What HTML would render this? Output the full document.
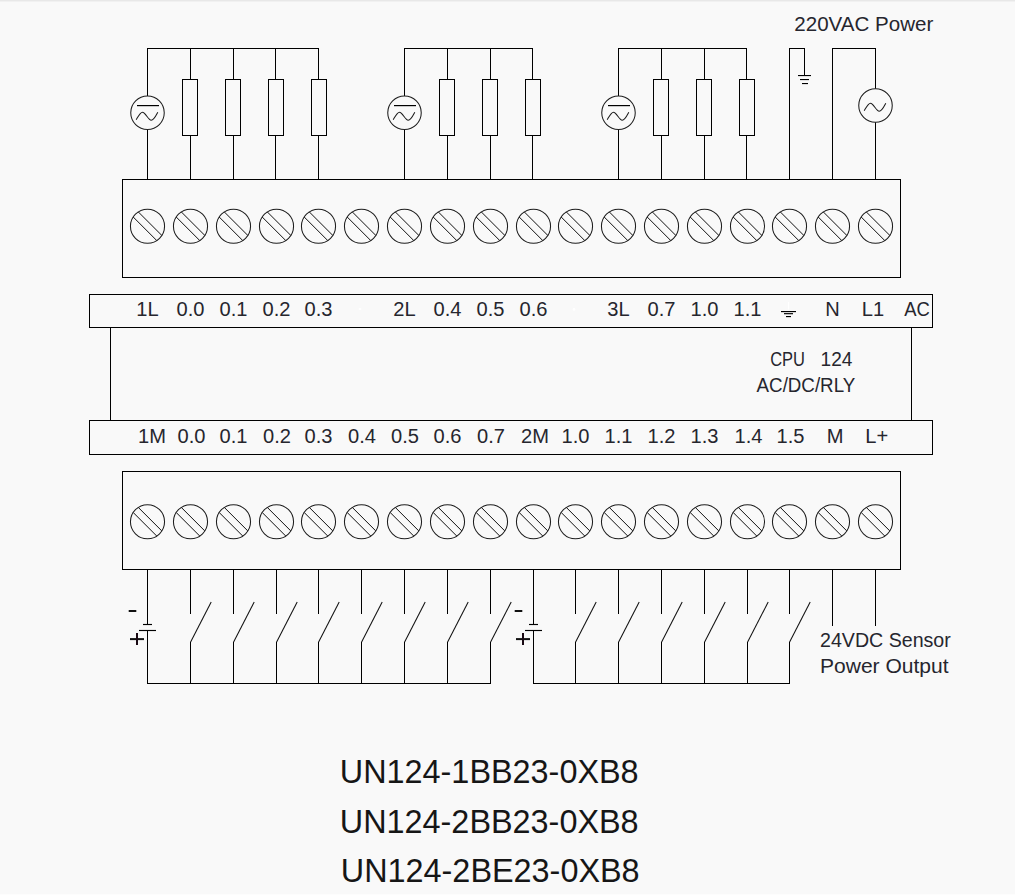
<!DOCTYPE html>
<html><head><meta charset="utf-8"><style>
html,body{margin:0;padding:0;background:#f9f9f9;width:1015px;height:895px;overflow:hidden}
svg{position:absolute;left:0;top:0;display:block}
.t0{position:absolute;left:0;top:0;width:1015px;height:1px;background:#e8e8e8}
.t1{position:absolute;left:0;top:1px;width:1015px;height:1px;background:#f1f1f1}
.b0{position:absolute;left:0;top:894px;width:1015px;height:1px;background:#fdfdfd}
</style></head><body>
<div class="t0"></div><div class="t1"></div><div class="b0"></div>
<svg width="1015" height="895" viewBox="0 0 1015 895">
<g>
<line x1="147.0" y1="48.5" x2="319.0" y2="48.5" stroke="#000" stroke-width="1"/>
<line x1="147.5" y1="48.0" x2="147.5" y2="179.5" stroke="#000" stroke-width="1"/>
<line x1="190.5" y1="48.0" x2="190.5" y2="179.5" stroke="#000" stroke-width="1"/>
<line x1="233.5" y1="48.0" x2="233.5" y2="179.5" stroke="#000" stroke-width="1"/>
<line x1="275.5" y1="48.0" x2="275.5" y2="179.5" stroke="#000" stroke-width="1"/>
<line x1="318.5" y1="48.0" x2="318.5" y2="179.5" stroke="#000" stroke-width="1"/>
<circle cx="147.5" cy="112.8" r="16.75" fill="#f9f9f9" stroke="#1e1e1e" stroke-width="1.05"/>
<rect x="137.0" y="105" width="22" height="1.2" fill="#000"/>
<path d="M136.20,119.70 C138.20,116.40 140.20,112.20 142.50,112.20 C145.30,112.20 148.40,120.20 151.20,120.20 C153.80,120.20 155.90,115.80 157.80,112.20" fill="none" stroke="#1a1a1a" stroke-width="1.05"/>
<rect x="182.5" y="79.5" width="15" height="56" fill="#f9f9f9" stroke="#000" stroke-width="1"/>
<rect x="225.5" y="79.5" width="15" height="56" fill="#f9f9f9" stroke="#000" stroke-width="1"/>
<rect x="268.5" y="79.5" width="15" height="56" fill="#f9f9f9" stroke="#000" stroke-width="1"/>
<rect x="311.5" y="79.5" width="15" height="56" fill="#f9f9f9" stroke="#000" stroke-width="1"/>
<line x1="404.0" y1="48.5" x2="533.0" y2="48.5" stroke="#000" stroke-width="1"/>
<line x1="404.5" y1="48.0" x2="404.5" y2="179.5" stroke="#000" stroke-width="1"/>
<line x1="447.5" y1="48.0" x2="447.5" y2="179.5" stroke="#000" stroke-width="1"/>
<line x1="490.5" y1="48.0" x2="490.5" y2="179.5" stroke="#000" stroke-width="1"/>
<line x1="532.5" y1="48.0" x2="532.5" y2="179.5" stroke="#000" stroke-width="1"/>
<circle cx="404.5" cy="112.8" r="16.75" fill="#f9f9f9" stroke="#1e1e1e" stroke-width="1.05"/>
<rect x="394.0" y="105" width="22" height="1.2" fill="#000"/>
<path d="M393.20,119.70 C395.20,116.40 397.20,112.20 399.50,112.20 C402.30,112.20 405.40,120.20 408.20,120.20 C410.80,120.20 412.90,115.80 414.80,112.20" fill="none" stroke="#1a1a1a" stroke-width="1.05"/>
<rect x="439.5" y="79.5" width="15" height="56" fill="#f9f9f9" stroke="#000" stroke-width="1"/>
<rect x="482.5" y="79.5" width="15" height="56" fill="#f9f9f9" stroke="#000" stroke-width="1"/>
<rect x="525.5" y="79.5" width="15" height="56" fill="#f9f9f9" stroke="#000" stroke-width="1"/>
<line x1="618.0" y1="48.5" x2="747.0" y2="48.5" stroke="#000" stroke-width="1"/>
<line x1="618.5" y1="48.0" x2="618.5" y2="179.5" stroke="#000" stroke-width="1"/>
<line x1="661.5" y1="48.0" x2="661.5" y2="179.5" stroke="#000" stroke-width="1"/>
<line x1="704.5" y1="48.0" x2="704.5" y2="179.5" stroke="#000" stroke-width="1"/>
<line x1="746.5" y1="48.0" x2="746.5" y2="179.5" stroke="#000" stroke-width="1"/>
<circle cx="618.5" cy="112.8" r="16.75" fill="#f9f9f9" stroke="#1e1e1e" stroke-width="1.05"/>
<rect x="608.0" y="105" width="22" height="1.2" fill="#000"/>
<path d="M607.20,119.70 C609.20,116.40 611.20,112.20 613.50,112.20 C616.30,112.20 619.40,120.20 622.20,120.20 C624.80,120.20 626.90,115.80 628.80,112.20" fill="none" stroke="#1a1a1a" stroke-width="1.05"/>
<rect x="653.5" y="79.5" width="15" height="56" fill="#f9f9f9" stroke="#000" stroke-width="1"/>
<rect x="696.5" y="79.5" width="15" height="56" fill="#f9f9f9" stroke="#000" stroke-width="1"/>
<rect x="739.5" y="79.5" width="15" height="56" fill="#f9f9f9" stroke="#000" stroke-width="1"/>
<line x1="789.5" y1="48.0" x2="789.5" y2="179.5" stroke="#000" stroke-width="1"/>
<line x1="789.0" y1="48.5" x2="805" y2="48.5" stroke="#000" stroke-width="1"/>
<line x1="804.5" y1="48.0" x2="804.5" y2="75" stroke="#000" stroke-width="1"/>
<rect x="798" y="75" width="13" height="1.1" fill="#000"/>
<rect x="800" y="79" width="9" height="1.1" fill="#000"/>
<rect x="802" y="83" width="6" height="1.1" fill="#000"/>
<line x1="832.5" y1="48.0" x2="832.5" y2="179.5" stroke="#000" stroke-width="1"/>
<line x1="832.0" y1="48.5" x2="876.0" y2="48.5" stroke="#000" stroke-width="1"/>
<line x1="875.5" y1="48.0" x2="875.5" y2="179.5" stroke="#000" stroke-width="1"/>
<circle cx="875.5" cy="105.5" r="16.75" fill="#f9f9f9" stroke="#1e1e1e" stroke-width="1.05"/>
<path d="M864.20,110.70 C866.20,107.40 868.20,103.20 870.50,103.20 C873.30,103.20 876.40,111.20 879.20,111.20 C881.80,111.20 883.90,106.80 885.80,103.20" fill="none" stroke="#1a1a1a" stroke-width="1.05"/>
<rect x="122.5" y="179.5" width="778" height="98.0" fill="none" stroke="#000" stroke-width="1"/>
<circle cx="147.5" cy="226.2" r="17.05" fill="none" stroke="#1e1e1e" stroke-width="1.05"/>
<line x1="133.21" y1="217.00" x2="156.70" y2="240.49" stroke="#111" stroke-width="1.0"/>
<line x1="138.30" y1="211.91" x2="161.79" y2="235.40" stroke="#111" stroke-width="1.0"/>
<circle cx="190.5" cy="226.2" r="17.05" fill="none" stroke="#1e1e1e" stroke-width="1.05"/>
<line x1="176.21" y1="217.00" x2="199.70" y2="240.49" stroke="#111" stroke-width="1.0"/>
<line x1="181.30" y1="211.91" x2="204.79" y2="235.40" stroke="#111" stroke-width="1.0"/>
<circle cx="233.5" cy="226.2" r="17.05" fill="none" stroke="#1e1e1e" stroke-width="1.05"/>
<line x1="219.21" y1="217.00" x2="242.70" y2="240.49" stroke="#111" stroke-width="1.0"/>
<line x1="224.30" y1="211.91" x2="247.79" y2="235.40" stroke="#111" stroke-width="1.0"/>
<circle cx="276.5" cy="226.2" r="17.05" fill="none" stroke="#1e1e1e" stroke-width="1.05"/>
<line x1="262.21" y1="217.00" x2="285.70" y2="240.49" stroke="#111" stroke-width="1.0"/>
<line x1="267.30" y1="211.91" x2="290.79" y2="235.40" stroke="#111" stroke-width="1.0"/>
<circle cx="318.5" cy="226.2" r="17.05" fill="none" stroke="#1e1e1e" stroke-width="1.05"/>
<line x1="304.21" y1="217.00" x2="327.70" y2="240.49" stroke="#111" stroke-width="1.0"/>
<line x1="309.30" y1="211.91" x2="332.79" y2="235.40" stroke="#111" stroke-width="1.0"/>
<circle cx="361.5" cy="226.2" r="17.05" fill="none" stroke="#1e1e1e" stroke-width="1.05"/>
<line x1="347.21" y1="217.00" x2="370.70" y2="240.49" stroke="#111" stroke-width="1.0"/>
<line x1="352.30" y1="211.91" x2="375.79" y2="235.40" stroke="#111" stroke-width="1.0"/>
<circle cx="404.5" cy="226.2" r="17.05" fill="none" stroke="#1e1e1e" stroke-width="1.05"/>
<line x1="390.21" y1="217.00" x2="413.70" y2="240.49" stroke="#111" stroke-width="1.0"/>
<line x1="395.30" y1="211.91" x2="418.79" y2="235.40" stroke="#111" stroke-width="1.0"/>
<circle cx="447.5" cy="226.2" r="17.05" fill="none" stroke="#1e1e1e" stroke-width="1.05"/>
<line x1="433.21" y1="217.00" x2="456.70" y2="240.49" stroke="#111" stroke-width="1.0"/>
<line x1="438.30" y1="211.91" x2="461.79" y2="235.40" stroke="#111" stroke-width="1.0"/>
<circle cx="490.5" cy="226.2" r="17.05" fill="none" stroke="#1e1e1e" stroke-width="1.05"/>
<line x1="476.21" y1="217.00" x2="499.70" y2="240.49" stroke="#111" stroke-width="1.0"/>
<line x1="481.30" y1="211.91" x2="504.79" y2="235.40" stroke="#111" stroke-width="1.0"/>
<circle cx="533.5" cy="226.2" r="17.05" fill="none" stroke="#1e1e1e" stroke-width="1.05"/>
<line x1="519.21" y1="217.00" x2="542.70" y2="240.49" stroke="#111" stroke-width="1.0"/>
<line x1="524.30" y1="211.91" x2="547.79" y2="235.40" stroke="#111" stroke-width="1.0"/>
<circle cx="575.5" cy="226.2" r="17.05" fill="none" stroke="#1e1e1e" stroke-width="1.05"/>
<line x1="561.21" y1="217.00" x2="584.70" y2="240.49" stroke="#111" stroke-width="1.0"/>
<line x1="566.30" y1="211.91" x2="589.79" y2="235.40" stroke="#111" stroke-width="1.0"/>
<circle cx="618.5" cy="226.2" r="17.05" fill="none" stroke="#1e1e1e" stroke-width="1.05"/>
<line x1="604.21" y1="217.00" x2="627.70" y2="240.49" stroke="#111" stroke-width="1.0"/>
<line x1="609.30" y1="211.91" x2="632.79" y2="235.40" stroke="#111" stroke-width="1.0"/>
<circle cx="661.5" cy="226.2" r="17.05" fill="none" stroke="#1e1e1e" stroke-width="1.05"/>
<line x1="647.21" y1="217.00" x2="670.70" y2="240.49" stroke="#111" stroke-width="1.0"/>
<line x1="652.30" y1="211.91" x2="675.79" y2="235.40" stroke="#111" stroke-width="1.0"/>
<circle cx="704.5" cy="226.2" r="17.05" fill="none" stroke="#1e1e1e" stroke-width="1.05"/>
<line x1="690.21" y1="217.00" x2="713.70" y2="240.49" stroke="#111" stroke-width="1.0"/>
<line x1="695.30" y1="211.91" x2="718.79" y2="235.40" stroke="#111" stroke-width="1.0"/>
<circle cx="747.5" cy="226.2" r="17.05" fill="none" stroke="#1e1e1e" stroke-width="1.05"/>
<line x1="733.21" y1="217.00" x2="756.70" y2="240.49" stroke="#111" stroke-width="1.0"/>
<line x1="738.30" y1="211.91" x2="761.79" y2="235.40" stroke="#111" stroke-width="1.0"/>
<circle cx="789.5" cy="226.2" r="17.05" fill="none" stroke="#1e1e1e" stroke-width="1.05"/>
<line x1="775.21" y1="217.00" x2="798.70" y2="240.49" stroke="#111" stroke-width="1.0"/>
<line x1="780.30" y1="211.91" x2="803.79" y2="235.40" stroke="#111" stroke-width="1.0"/>
<circle cx="832.5" cy="226.2" r="17.05" fill="none" stroke="#1e1e1e" stroke-width="1.05"/>
<line x1="818.21" y1="217.00" x2="841.70" y2="240.49" stroke="#111" stroke-width="1.0"/>
<line x1="823.30" y1="211.91" x2="846.79" y2="235.40" stroke="#111" stroke-width="1.0"/>
<circle cx="875.5" cy="226.2" r="17.05" fill="none" stroke="#1e1e1e" stroke-width="1.05"/>
<line x1="861.21" y1="217.00" x2="884.70" y2="240.49" stroke="#111" stroke-width="1.0"/>
<line x1="866.30" y1="211.91" x2="889.79" y2="235.40" stroke="#111" stroke-width="1.0"/>
<rect x="122.5" y="471.5" width="778" height="98.0" fill="none" stroke="#000" stroke-width="1"/>
<circle cx="147.5" cy="521.7" r="17.05" fill="none" stroke="#1e1e1e" stroke-width="1.05"/>
<line x1="133.21" y1="512.50" x2="156.70" y2="535.99" stroke="#111" stroke-width="1.0"/>
<line x1="138.30" y1="507.41" x2="161.79" y2="530.90" stroke="#111" stroke-width="1.0"/>
<circle cx="190.5" cy="521.7" r="17.05" fill="none" stroke="#1e1e1e" stroke-width="1.05"/>
<line x1="176.21" y1="512.50" x2="199.70" y2="535.99" stroke="#111" stroke-width="1.0"/>
<line x1="181.30" y1="507.41" x2="204.79" y2="530.90" stroke="#111" stroke-width="1.0"/>
<circle cx="233.5" cy="521.7" r="17.05" fill="none" stroke="#1e1e1e" stroke-width="1.05"/>
<line x1="219.21" y1="512.50" x2="242.70" y2="535.99" stroke="#111" stroke-width="1.0"/>
<line x1="224.30" y1="507.41" x2="247.79" y2="530.90" stroke="#111" stroke-width="1.0"/>
<circle cx="276.5" cy="521.7" r="17.05" fill="none" stroke="#1e1e1e" stroke-width="1.05"/>
<line x1="262.21" y1="512.50" x2="285.70" y2="535.99" stroke="#111" stroke-width="1.0"/>
<line x1="267.30" y1="507.41" x2="290.79" y2="530.90" stroke="#111" stroke-width="1.0"/>
<circle cx="318.5" cy="521.7" r="17.05" fill="none" stroke="#1e1e1e" stroke-width="1.05"/>
<line x1="304.21" y1="512.50" x2="327.70" y2="535.99" stroke="#111" stroke-width="1.0"/>
<line x1="309.30" y1="507.41" x2="332.79" y2="530.90" stroke="#111" stroke-width="1.0"/>
<circle cx="361.5" cy="521.7" r="17.05" fill="none" stroke="#1e1e1e" stroke-width="1.05"/>
<line x1="347.21" y1="512.50" x2="370.70" y2="535.99" stroke="#111" stroke-width="1.0"/>
<line x1="352.30" y1="507.41" x2="375.79" y2="530.90" stroke="#111" stroke-width="1.0"/>
<circle cx="404.5" cy="521.7" r="17.05" fill="none" stroke="#1e1e1e" stroke-width="1.05"/>
<line x1="390.21" y1="512.50" x2="413.70" y2="535.99" stroke="#111" stroke-width="1.0"/>
<line x1="395.30" y1="507.41" x2="418.79" y2="530.90" stroke="#111" stroke-width="1.0"/>
<circle cx="447.5" cy="521.7" r="17.05" fill="none" stroke="#1e1e1e" stroke-width="1.05"/>
<line x1="433.21" y1="512.50" x2="456.70" y2="535.99" stroke="#111" stroke-width="1.0"/>
<line x1="438.30" y1="507.41" x2="461.79" y2="530.90" stroke="#111" stroke-width="1.0"/>
<circle cx="490.5" cy="521.7" r="17.05" fill="none" stroke="#1e1e1e" stroke-width="1.05"/>
<line x1="476.21" y1="512.50" x2="499.70" y2="535.99" stroke="#111" stroke-width="1.0"/>
<line x1="481.30" y1="507.41" x2="504.79" y2="530.90" stroke="#111" stroke-width="1.0"/>
<circle cx="533.5" cy="521.7" r="17.05" fill="none" stroke="#1e1e1e" stroke-width="1.05"/>
<line x1="519.21" y1="512.50" x2="542.70" y2="535.99" stroke="#111" stroke-width="1.0"/>
<line x1="524.30" y1="507.41" x2="547.79" y2="530.90" stroke="#111" stroke-width="1.0"/>
<circle cx="575.5" cy="521.7" r="17.05" fill="none" stroke="#1e1e1e" stroke-width="1.05"/>
<line x1="561.21" y1="512.50" x2="584.70" y2="535.99" stroke="#111" stroke-width="1.0"/>
<line x1="566.30" y1="507.41" x2="589.79" y2="530.90" stroke="#111" stroke-width="1.0"/>
<circle cx="618.5" cy="521.7" r="17.05" fill="none" stroke="#1e1e1e" stroke-width="1.05"/>
<line x1="604.21" y1="512.50" x2="627.70" y2="535.99" stroke="#111" stroke-width="1.0"/>
<line x1="609.30" y1="507.41" x2="632.79" y2="530.90" stroke="#111" stroke-width="1.0"/>
<circle cx="661.5" cy="521.7" r="17.05" fill="none" stroke="#1e1e1e" stroke-width="1.05"/>
<line x1="647.21" y1="512.50" x2="670.70" y2="535.99" stroke="#111" stroke-width="1.0"/>
<line x1="652.30" y1="507.41" x2="675.79" y2="530.90" stroke="#111" stroke-width="1.0"/>
<circle cx="704.5" cy="521.7" r="17.05" fill="none" stroke="#1e1e1e" stroke-width="1.05"/>
<line x1="690.21" y1="512.50" x2="713.70" y2="535.99" stroke="#111" stroke-width="1.0"/>
<line x1="695.30" y1="507.41" x2="718.79" y2="530.90" stroke="#111" stroke-width="1.0"/>
<circle cx="747.5" cy="521.7" r="17.05" fill="none" stroke="#1e1e1e" stroke-width="1.05"/>
<line x1="733.21" y1="512.50" x2="756.70" y2="535.99" stroke="#111" stroke-width="1.0"/>
<line x1="738.30" y1="507.41" x2="761.79" y2="530.90" stroke="#111" stroke-width="1.0"/>
<circle cx="789.5" cy="521.7" r="17.05" fill="none" stroke="#1e1e1e" stroke-width="1.05"/>
<line x1="775.21" y1="512.50" x2="798.70" y2="535.99" stroke="#111" stroke-width="1.0"/>
<line x1="780.30" y1="507.41" x2="803.79" y2="530.90" stroke="#111" stroke-width="1.0"/>
<circle cx="832.5" cy="521.7" r="17.05" fill="none" stroke="#1e1e1e" stroke-width="1.05"/>
<line x1="818.21" y1="512.50" x2="841.70" y2="535.99" stroke="#111" stroke-width="1.0"/>
<line x1="823.30" y1="507.41" x2="846.79" y2="530.90" stroke="#111" stroke-width="1.0"/>
<circle cx="875.5" cy="521.7" r="17.05" fill="none" stroke="#1e1e1e" stroke-width="1.05"/>
<line x1="861.21" y1="512.50" x2="884.70" y2="535.99" stroke="#111" stroke-width="1.0"/>
<line x1="866.30" y1="507.41" x2="889.79" y2="530.90" stroke="#111" stroke-width="1.0"/>
<rect x="89.5" y="294.5" width="843" height="33" fill="none" stroke="#000" stroke-width="1"/>
<rect x="89.5" y="420.5" width="843" height="34" fill="none" stroke="#000" stroke-width="1"/>
<line x1="110.5" y1="327.5" x2="110.5" y2="420.5" stroke="#000" stroke-width="1"/>
<line x1="911.5" y1="327.5" x2="911.5" y2="420.5" stroke="#000" stroke-width="1"/>
<line x1="788.5" y1="302" x2="788.5" y2="309.5" stroke="#fff" stroke-width="1"/>
<rect x="781" y="311" width="15" height="1.15" fill="#000"/>
<rect x="784" y="313.1" width="9" height="1.15" fill="#000"/>
<rect x="786" y="316" width="5" height="1.15" fill="#000"/>
<circle cx="360" cy="309" r="1.3" fill="#fff"/>
<circle cx="574" cy="309.4" r="1.3" fill="#fff"/>
<line x1="147.5" y1="569.5" x2="147.5" y2="624.5" stroke="#000" stroke-width="1"/>
<line x1="143.0" y1="624.5" x2="152.0" y2="624.5" stroke="#000" stroke-width="1.15"/>
<line x1="139.0" y1="630.5" x2="156.0" y2="630.5" stroke="#000" stroke-width="1.15"/>
<line x1="147.5" y1="630.5" x2="147.5" y2="684.0" stroke="#000" stroke-width="1"/>
<rect x="128.7" y="610" width="7.6" height="2" fill="#111"/>
<rect x="130.0" y="638.1" width="14" height="2" fill="#111"/>
<rect x="136.0" y="633" width="2" height="12" fill="#1a0a14"/>
<line x1="190.5" y1="569.5" x2="190.5" y2="614" stroke="#000" stroke-width="1"/>
<line x1="190.5" y1="642.3" x2="211.2" y2="602" stroke="#111" stroke-width="1.05"/>
<line x1="190.5" y1="642" x2="190.5" y2="683.5" stroke="#000" stroke-width="1"/>
<line x1="233.5" y1="569.5" x2="233.5" y2="614" stroke="#000" stroke-width="1"/>
<line x1="233.5" y1="642.3" x2="254.2" y2="602" stroke="#111" stroke-width="1.05"/>
<line x1="233.5" y1="642" x2="233.5" y2="683.5" stroke="#000" stroke-width="1"/>
<line x1="276.5" y1="569.5" x2="276.5" y2="614" stroke="#000" stroke-width="1"/>
<line x1="276.5" y1="642.3" x2="297.2" y2="602" stroke="#111" stroke-width="1.05"/>
<line x1="276.5" y1="642" x2="276.5" y2="683.5" stroke="#000" stroke-width="1"/>
<line x1="318.5" y1="569.5" x2="318.5" y2="614" stroke="#000" stroke-width="1"/>
<line x1="318.5" y1="642.3" x2="339.2" y2="602" stroke="#111" stroke-width="1.05"/>
<line x1="318.5" y1="642" x2="318.5" y2="683.5" stroke="#000" stroke-width="1"/>
<line x1="361.5" y1="569.5" x2="361.5" y2="614" stroke="#000" stroke-width="1"/>
<line x1="361.5" y1="642.3" x2="382.2" y2="602" stroke="#111" stroke-width="1.05"/>
<line x1="361.5" y1="642" x2="361.5" y2="683.5" stroke="#000" stroke-width="1"/>
<line x1="404.5" y1="569.5" x2="404.5" y2="614" stroke="#000" stroke-width="1"/>
<line x1="404.5" y1="642.3" x2="425.2" y2="602" stroke="#111" stroke-width="1.05"/>
<line x1="404.5" y1="642" x2="404.5" y2="683.5" stroke="#000" stroke-width="1"/>
<line x1="447.5" y1="569.5" x2="447.5" y2="614" stroke="#000" stroke-width="1"/>
<line x1="447.5" y1="642.3" x2="468.2" y2="602" stroke="#111" stroke-width="1.05"/>
<line x1="447.5" y1="642" x2="447.5" y2="683.5" stroke="#000" stroke-width="1"/>
<line x1="490.5" y1="569.5" x2="490.5" y2="614" stroke="#000" stroke-width="1"/>
<line x1="490.5" y1="642.3" x2="511.2" y2="602" stroke="#111" stroke-width="1.05"/>
<line x1="490.5" y1="642" x2="490.5" y2="683.5" stroke="#000" stroke-width="1"/>
<line x1="147.0" y1="683.5" x2="491.0" y2="683.5" stroke="#000" stroke-width="1"/>
<line x1="533.5" y1="569.5" x2="533.5" y2="624.5" stroke="#000" stroke-width="1"/>
<line x1="529.0" y1="624.5" x2="538.0" y2="624.5" stroke="#000" stroke-width="1.15"/>
<line x1="525.0" y1="630.5" x2="542.0" y2="630.5" stroke="#000" stroke-width="1.15"/>
<line x1="533.5" y1="630.5" x2="533.5" y2="684.0" stroke="#000" stroke-width="1"/>
<rect x="514.7" y="610" width="7.6" height="2" fill="#111"/>
<rect x="516.0" y="638.1" width="14" height="2" fill="#111"/>
<rect x="522.0" y="633" width="2" height="12" fill="#1a0a14"/>
<line x1="575.5" y1="569.5" x2="575.5" y2="614" stroke="#000" stroke-width="1"/>
<line x1="575.5" y1="642.3" x2="596.2" y2="602" stroke="#111" stroke-width="1.05"/>
<line x1="575.5" y1="642" x2="575.5" y2="683.5" stroke="#000" stroke-width="1"/>
<line x1="618.5" y1="569.5" x2="618.5" y2="614" stroke="#000" stroke-width="1"/>
<line x1="618.5" y1="642.3" x2="639.2" y2="602" stroke="#111" stroke-width="1.05"/>
<line x1="618.5" y1="642" x2="618.5" y2="683.5" stroke="#000" stroke-width="1"/>
<line x1="661.5" y1="569.5" x2="661.5" y2="614" stroke="#000" stroke-width="1"/>
<line x1="661.5" y1="642.3" x2="682.2" y2="602" stroke="#111" stroke-width="1.05"/>
<line x1="661.5" y1="642" x2="661.5" y2="683.5" stroke="#000" stroke-width="1"/>
<line x1="704.5" y1="569.5" x2="704.5" y2="614" stroke="#000" stroke-width="1"/>
<line x1="704.5" y1="642.3" x2="725.2" y2="602" stroke="#111" stroke-width="1.05"/>
<line x1="704.5" y1="642" x2="704.5" y2="683.5" stroke="#000" stroke-width="1"/>
<line x1="747.5" y1="569.5" x2="747.5" y2="614" stroke="#000" stroke-width="1"/>
<line x1="747.5" y1="642.3" x2="768.2" y2="602" stroke="#111" stroke-width="1.05"/>
<line x1="747.5" y1="642" x2="747.5" y2="683.5" stroke="#000" stroke-width="1"/>
<line x1="789.5" y1="569.5" x2="789.5" y2="614" stroke="#000" stroke-width="1"/>
<line x1="789.5" y1="642.3" x2="810.2" y2="602" stroke="#111" stroke-width="1.05"/>
<line x1="789.5" y1="642" x2="789.5" y2="683.5" stroke="#000" stroke-width="1"/>
<line x1="533.0" y1="683.5" x2="790.0" y2="683.5" stroke="#000" stroke-width="1"/>
<line x1="832.5" y1="569.5" x2="832.5" y2="626" stroke="#000" stroke-width="1"/>
<line x1="875.5" y1="569.5" x2="875.5" y2="626" stroke="#000" stroke-width="1"/>
</g>
<g font-family="Liberation Sans, sans-serif">
<text x="147.5" y="316" font-size="20.1" fill="#26262e" text-anchor="middle">1L</text>
<text x="190.5" y="316" font-size="20.1" fill="#26262e" text-anchor="middle">0.0</text>
<text x="233.5" y="316" font-size="20.1" fill="#26262e" text-anchor="middle">0.1</text>
<text x="276.5" y="316" font-size="20.1" fill="#26262e" text-anchor="middle">0.2</text>
<text x="318.5" y="316" font-size="20.1" fill="#26262e" text-anchor="middle">0.3</text>
<text x="404.5" y="316" font-size="20.1" fill="#26262e" text-anchor="middle">2L</text>
<text x="447.5" y="316" font-size="20.1" fill="#26262e" text-anchor="middle">0.4</text>
<text x="490.5" y="316" font-size="20.1" fill="#26262e" text-anchor="middle">0.5</text>
<text x="533.5" y="316" font-size="20.1" fill="#26262e" text-anchor="middle">0.6</text>
<text x="618.5" y="316" font-size="20.1" fill="#26262e" text-anchor="middle">3L</text>
<text x="661.5" y="316" font-size="20.1" fill="#26262e" text-anchor="middle">0.7</text>
<text x="704.5" y="316" font-size="20.1" fill="#26262e" text-anchor="middle">1.0</text>
<text x="747.5" y="316" font-size="20.1" fill="#26262e" text-anchor="middle">1.1</text>
<text x="832.5" y="316" font-size="20.1" fill="#26262e" text-anchor="middle">N</text>
<text x="873.0" y="316" font-size="20.1" fill="#26262e" text-anchor="middle">L1</text>
<text x="904.3" y="316" font-size="20.1" fill="#26262e" text-anchor="start" textLength="25.6" lengthAdjust="spacingAndGlyphs">AC</text>
<text x="152.0" y="443" font-size="20.1" fill="#26262e" text-anchor="middle">1M</text>
<text x="191.5" y="443" font-size="20.1" fill="#26262e" text-anchor="middle">0.0</text>
<text x="233.5" y="443" font-size="20.1" fill="#26262e" text-anchor="middle">0.1</text>
<text x="277.0" y="443" font-size="20.1" fill="#26262e" text-anchor="middle">0.2</text>
<text x="318.5" y="443" font-size="20.1" fill="#26262e" text-anchor="middle">0.3</text>
<text x="362.0" y="443" font-size="20.1" fill="#26262e" text-anchor="middle">0.4</text>
<text x="405.0" y="443" font-size="20.1" fill="#26262e" text-anchor="middle">0.5</text>
<text x="447.5" y="443" font-size="20.1" fill="#26262e" text-anchor="middle">0.6</text>
<text x="491.0" y="443" font-size="20.1" fill="#26262e" text-anchor="middle">0.7</text>
<text x="535.0" y="443" font-size="20.1" fill="#26262e" text-anchor="middle">2M</text>
<text x="575.5" y="443" font-size="20.1" fill="#26262e" text-anchor="middle">1.0</text>
<text x="618.5" y="443" font-size="20.1" fill="#26262e" text-anchor="middle">1.1</text>
<text x="661.5" y="443" font-size="20.1" fill="#26262e" text-anchor="middle">1.2</text>
<text x="704.5" y="443" font-size="20.1" fill="#26262e" text-anchor="middle">1.3</text>
<text x="748.5" y="443" font-size="20.1" fill="#26262e" text-anchor="middle">1.4</text>
<text x="790.5" y="443" font-size="20.1" fill="#26262e" text-anchor="middle">1.5</text>
<text x="835.0" y="443" font-size="20.1" fill="#26262e" text-anchor="middle">M</text>
<text x="876.7" y="443" font-size="20.1" fill="#26262e" text-anchor="middle">L+</text>
<text x="794.3" y="31.2" font-size="20.3" fill="#26262e" text-anchor="start" textLength="139" lengthAdjust="spacingAndGlyphs">220VAC Power</text>
<text x="770.2" y="365.8" font-size="20" fill="#26262e" text-anchor="start" textLength="34.8" lengthAdjust="spacingAndGlyphs">CPU</text>
<text x="820.6" y="365.8" font-size="20" fill="#26262e" text-anchor="start" textLength="31.8" lengthAdjust="spacingAndGlyphs">124</text>
<text x="756.6" y="391.8" font-size="20" fill="#26262e" text-anchor="start" textLength="98.6" lengthAdjust="spacingAndGlyphs">AC/DC/RLY</text>
<text x="820.0" y="646.8" font-size="20" fill="#26262e" text-anchor="start" textLength="130.8" lengthAdjust="spacingAndGlyphs">24VDC Sensor</text>
<text x="820.0" y="672.8" font-size="20" fill="#26262e" text-anchor="start" textLength="128.6" lengthAdjust="spacingAndGlyphs">Power Output</text>
<text x="489.2" y="783" font-size="32.4" fill="#161616" text-anchor="middle">UN124-1BB23-0XB8</text>
<text x="489.2" y="833" font-size="32.4" fill="#161616" text-anchor="middle">UN124-2BB23-0XB8</text>
<text x="490.2" y="881.6" font-size="32.4" fill="#161616" text-anchor="middle">UN124-2BE23-0XB8</text>
</g>
</svg>
</body></html>
